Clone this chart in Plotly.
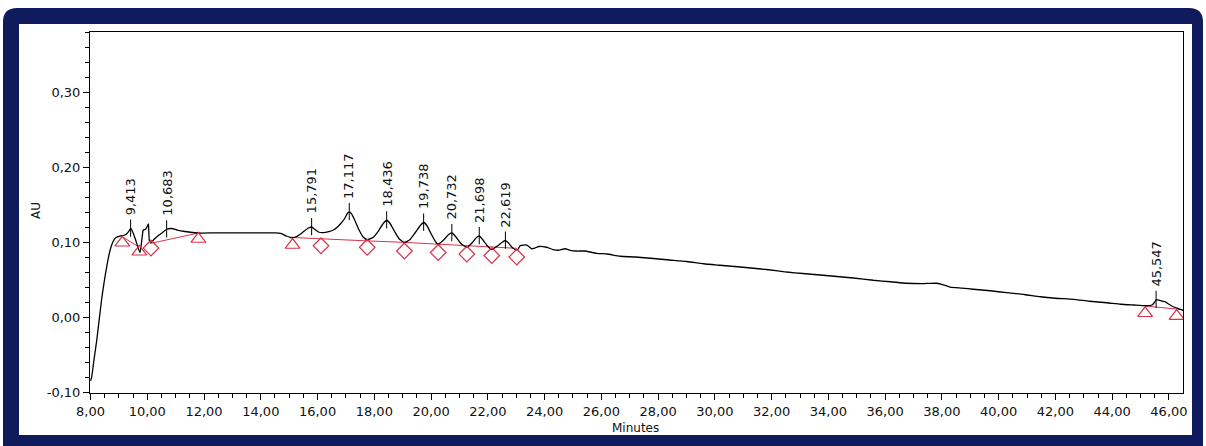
import plotly.graph_objects as go

# ---------------- data ----------------
signal_t = [8.00, 8.04, 8.13, 8.22, 8.39, 8.57, 8.69, 8.80, 8.90, 9.04, 9.18, 9.28, 9.36, 9.413, 9.48, 9.58,
            9.74, 9.80, 9.86, 9.94, 10.00, 10.04, 10.08, 10.15, 10.25, 10.40, 10.55, 10.683, 10.86,
            11.05, 11.33, 11.80, 12.50, 13.50, 14.50, 14.70, 14.90, 15.05, 15.25, 15.45, 15.65,
            15.791, 15.90, 16.05, 16.20, 16.40, 16.56, 16.70, 16.85, 16.95, 17.05, 17.117, 17.19,
            17.30, 17.45, 17.60, 17.75, 17.95, 18.15, 18.30, 18.436, 18.55, 18.70, 18.88, 19.06,
            19.25, 19.45, 19.62, 19.738, 19.85, 20.00, 20.15, 20.25, 20.45, 20.62, 20.732, 20.85,
            21.05, 21.26, 21.45, 21.60, 21.698, 21.80, 21.98, 22.14, 22.35, 22.52, 22.619, 22.72,
            22.88, 23.04, 23.14, 23.37, 23.55, 23.66, 23.80, 24.07, 24.30, 24.48, 24.72, 24.90,
            25.13, 25.40, 25.84, 26.20, 26.66, 27.20, 27.83, 28.40, 29.01, 29.60, 30.18, 30.80,
            31.36, 31.90, 32.53, 33.10, 33.71, 34.30, 34.88, 35.58, 36.20, 36.76, 37.30, 37.82,
            38.05, 38.29, 38.70, 39.11, 39.70, 40.28, 40.90, 41.46, 42.00, 42.63, 43.20, 43.81,
            44.30, 44.75, 45.20, 45.40, 45.50, 45.547, 45.70, 45.86, 46.00, 46.15, 46.35, 46.50]
signal_au = [-0.085, -0.080, -0.055, -0.031, 0.023, 0.067, 0.089, 0.101, 0.106, 0.108, 0.109, 0.111, 0.115, 0.118, 0.114, 0.104,
             0.086, 0.100, 0.116, 0.117, 0.121, 0.124, 0.101, 0.100, 0.104, 0.109, 0.113, 0.117, 0.118,
             0.116, 0.114, 0.112, 0.1122, 0.1122, 0.1122, 0.1115, 0.108, 0.106, 0.107, 0.112, 0.118,
             0.120, 0.117, 0.113, 0.1125, 0.114, 0.116, 0.120, 0.126, 0.131, 0.138, 0.140, 0.138,
             0.130, 0.117, 0.107, 0.103, 0.106, 0.115, 0.124, 0.129, 0.125, 0.115, 0.104, 0.0996,
             0.103, 0.113, 0.122, 0.126, 0.122, 0.111, 0.101, 0.097, 0.103, 0.110, 0.112, 0.108,
             0.098, 0.093, 0.099, 0.106, 0.108, 0.104, 0.095, 0.090, 0.095, 0.100, 0.102, 0.099,
             0.092, 0.089, 0.095, 0.096, 0.091, 0.092, 0.094, 0.093, 0.090, 0.089, 0.091, 0.089,
             0.088, 0.088, 0.085, 0.084, 0.081, 0.080, 0.078, 0.076, 0.074, 0.071, 0.069, 0.067,
             0.065, 0.063, 0.060, 0.058, 0.056, 0.054, 0.052, 0.049, 0.047, 0.045, 0.0445, 0.045,
             0.043, 0.040, 0.0385, 0.037, 0.035, 0.0324, 0.030, 0.027, 0.025, 0.0236, 0.021, 0.019,
             0.017, 0.016, 0.015, 0.016, 0.020, 0.023, 0.022, 0.0204, 0.017, 0.0137, 0.011, 0.009]

# labelled peaks (retention time, apex height)
peak_times = [9.413, 10.683, 15.791, 17.117, 18.436, 19.738, 20.732, 21.698, 22.619, 45.547]
peak_heights = [0.118, 0.117, 0.120, 0.140, 0.129, 0.126, 0.112, 0.108, 0.102, 0.023]

# integration baselines (red), segments of [times], [values]
baseline_segments = [
    ([9.12, 9.72], [0.107, 0.093]),
    ([10.10, 11.80], [0.098, 0.112]),
    ([15.12, 16.12, 17.75, 19.06, 20.25, 21.26, 22.14, 23.02],
     [0.106, 0.104, 0.1015, 0.0995, 0.097, 0.095, 0.094, 0.0916]),
    ([45.16, 46.39], [0.0147, 0.0102]),
]

# peak start/end markers
triangle_t = [9.12, 9.72, 11.80, 15.12, 45.16, 46.27]
triangle_au = [0.099, 0.087, 0.104, 0.096, 0.005, 0.0013]
diamond_t = [10.13, 16.12, 17.75, 19.06, 20.25, 21.26, 22.14, 23.02]
diamond_au = [0.092, 0.095, 0.093, 0.088, 0.086, 0.084, 0.082, 0.080]

y_tickvals = [-0.10, 0.00, 0.10, 0.20, 0.30]
y_ticktext = ["-0,10", "0,00", "0,10", "0,20", "0,30"]

# ---------------- styling ----------------
W, H = 1206, 446
ML, MR, MT, MB = 90, 23, 32, 53
PW, PH = W - ML - MR, H - MT - MB
FONT = "DejaVu Sans"
NAVY = "#0f1b5c"
RED = "#d8334a"


def px(x):
    return (x - ML) / PW


def py(y):
    return (H - MB - y) / PH


fig = go.Figure()

# red baselines
for ts, vs in baseline_segments:
    fig.add_trace(go.Scatter(x=ts, y=vs, mode="lines", line=dict(color=RED, width=1),
                             hoverinfo="skip", showlegend=False))

# signal
fig.add_trace(go.Scatter(x=signal_t, y=signal_au, mode="lines",
                         line=dict(color="black", width=1.3, shape="spline", smoothing=0.5),
                         showlegend=False))

# peak ticks
tick_x, tick_y = [], []
for t, h in zip(peak_times, peak_heights):
    tick_x += [t, t, None]
    tick_y += [h - 0.011, h + 0.012, None]
fig.add_trace(go.Scatter(x=tick_x, y=tick_y, mode="lines", line=dict(color="black", width=1),
                         hoverinfo="skip", showlegend=False))

# markers
fig.add_trace(go.Scatter(x=triangle_t, y=triangle_au, mode="markers",
                         marker=dict(symbol="triangle-up-open", size=13, color=RED,
                                     line=dict(width=1.2, color=RED)), showlegend=False))
fig.add_trace(go.Scatter(x=diamond_t, y=diamond_au, mode="markers",
                         marker=dict(symbol="diamond-open", size=12, color=RED,
                                     line=dict(width=1.2, color=RED)), showlegend=False))

annotations = []
for t, h in zip(peak_times, peak_heights):
    annotations.append(dict(x=t, y=h + 0.015, xref="x", yref="y", text=f"{t:.3f}".replace(".", ","),
                            showarrow=False, textangle=-90, xanchor="center", yanchor="bottom",
                            font=dict(family=FONT, size=13, color="#111")))
annotations.append(dict(x=px(36), y=py(211), xref="paper", yref="paper", text="AU", showarrow=False,
                        textangle=-90, xanchor="center", yanchor="middle",
                        font=dict(family=FONT, size=12, color="#111")))
annotations.append(dict(x=px(635), y=py(428), xref="paper", yref="paper", text="Minutes",
                        showarrow=False, xanchor="center", yanchor="middle",
                        font=dict(family=FONT, size=12, color="#111")))


def rounded_path(x0, y0, x1, y1, r):
    pts = [
        ("M", [(x0, y1)]),
        ("L", [(x0, y0 + r)]),
        ("Q", [(x0, y0), (x0 + r, y0)]),
        ("L", [(x1 - r, y0)]),
        ("Q", [(x1, y0), (x1, y0 + r)]),
        ("L", [(x1, y1)]),
    ]
    s = ""
    for cmd, ps in pts:
        s += cmd + " " + " ".join(f"{px(a):.5f},{py(b):.5f}" for a, b in ps) + " "
    return s + "Z"


shapes = [
    dict(type="path", xref="paper", yref="paper", path=rounded_path(3, 8, 1203, 470, 14),
         fillcolor=NAVY, line=dict(width=0), layer="below"),
    dict(type="rect", xref="paper", yref="paper", x0=px(19), x1=px(1192), y0=py(435), y1=py(24),
         fillcolor="white", line=dict(width=0), layer="below"),
]

fig.update_layout(
    width=W, height=H,
    margin=dict(l=ML, r=MR, t=MT, b=MB, pad=0),
    paper_bgcolor="white", plot_bgcolor="white",
    separators=",.",
    font=dict(family=FONT, size=13, color="#111"),
    annotations=annotations, shapes=shapes,
    showlegend=False,
)
fig.update_xaxes(range=[7.982, 46.495], tick0=8, dtick=2, tickformat=".2f",
                 showline=True, linecolor="black", linewidth=1, mirror=True,
                 ticks="outside", ticklen=6, tickcolor="black", showgrid=False, zeroline=False,
                 tickfont=dict(family=FONT, size=13, color="#111"),
                 minor=dict(dtick=0.5, tick0=8, ticks="outside", ticklen=4, tickcolor="black", showgrid=False))
fig.update_yaxes(range=[-0.1013, 0.380], tickvals=y_tickvals, ticktext=y_ticktext,
                 showline=True, linecolor="black", linewidth=1, mirror=True,
                 ticks="outside", ticklen=6, tickcolor="black", showgrid=False, zeroline=False,
                 tickfont=dict(family=FONT, size=13, color="#111"),
                 minor=dict(dtick=0.02, tick0=0, ticks="outside", ticklen=4, tickcolor="black", showgrid=False))

fig.write_html("out.html")
